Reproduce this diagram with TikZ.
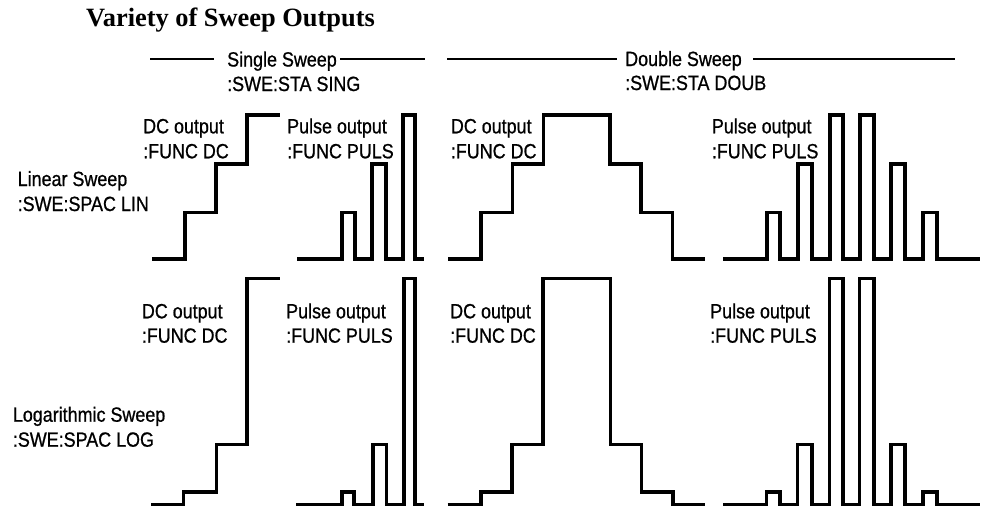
\documentclass[tikz,border=0pt]{standalone}
\usepackage{fontspec}
\setmainfont[FakeStretch=0.87,FakeBold=0.8]{Liberation Sans}
\newfontfamily\titlefont{Liberation Serif}
\newcommand\lblfont{\fontsize{20.6}{24}\selectfont}
\begin{document}
\begin{tikzpicture}[x=1pt,y=-1pt,
  lbl/.style={anchor=base west, inner sep=0pt, font=\lblfont},
  wave/.style={line width=3.4pt, line join=miter},
  hdr/.style={line width=2.8pt}]
\useasboundingbox (0,0) rectangle (985,507);
% title
\node[anchor=base west, inner sep=0pt, font=\titlefont\bfseries\fontsize{26.4}{30}\selectfont] (title) at (86,26.5) {Variety of Sweep Outputs};
% column headers
\node[lbl] (ss1) at (227,66.5) {Single Sweep};
\node[lbl] (ss2) at (227,91) {:SWE:STA SING};
\node[lbl] (ds1) at (625,66) {Double Sweep};
\node[lbl] (ds2) at (625,90) {:SWE:STA DOUB};
\coordinate (sa) at (150,59); \coordinate (sb) at (214,59);
\coordinate (sc) at (340,59); \coordinate (sd) at (425,59);
\coordinate (da) at (447,59); \coordinate (db) at (617,59);
\coordinate (dc) at (753,59); \coordinate (dd) at (955,59);
\draw[hdr] (sa) -- (sb);
\draw[hdr] (sc) -- (sd);
\draw[hdr] (da) -- (db);
\draw[hdr] (dc) -- (dd);
% row labels
\node[lbl] (lin1) at (17.5,186) {Linear Sweep};
\node[lbl] (lin2) at (17.5,211) {:SWE:SPAC LIN};
\node[lbl] (log1) at (12.7,421.7) {Logarithmic Sweep};
\node[lbl] (log2) at (12.7,446.7) {:SWE:SPAC LOG};
% waveform labels, top row
\node[lbl] (t1a) at (143,133.3) {DC output};
\node[lbl] (t1b) at (143,158.3) {:FUNC DC};
\node[lbl] (t2a) at (287,133.3) {Pulse output};
\node[lbl] (t2b) at (287,158.3) {:FUNC PULS};
\node[lbl] (t3a) at (450.7,133.3) {DC output};
\node[lbl] (t3b) at (450.7,158.3) {:FUNC DC};
\node[lbl] (t4a) at (711.7,133.3) {Pulse output};
\node[lbl] (t4b) at (711.7,158.3) {:FUNC PULS};
% waveform labels, bottom row
\node[lbl] (b1a) at (141.7,318.3) {DC output};
\node[lbl] (b1b) at (141.7,342.7) {:FUNC DC};
\node[lbl] (b2a) at (286,318.3) {Pulse output};
\node[lbl] (b2b) at (286,342.7) {:FUNC PULS};
\node[lbl] (b3a) at (450,318.3) {DC output};
\node[lbl] (b3b) at (450,342.7) {:FUNC DC};
\node[lbl] (b4a) at (710,318.3) {Pulse output};
\node[lbl] (b4b) at (710,342.7) {:FUNC PULS};
% top row waveforms (linear)
\draw[wave] (152,259) -| (185,212.5) -| (216,164) -| (247,115) -- (280,115);
\draw[wave] (297,259) -| (342,212.5) -| (355,259) -| (372,164) -| (386,259) -| (403,115) -| (415,259) -- (424,259);
\draw[wave] (448,259) -| (481,212.5) -| (512.5,164) -| (543.5,115) -| (610,164) -| (641,212.5) -| (672.5,259) -- (705,259);
\draw[wave] (723,259) -| (767,212.5) -| (780,259) -| (798,164) -| (812,259) -| (830,115) -| (843,259) -| (860,115) -| (874,259) -| (891,164) -| (905,259) -| (923,212.5) -| (937,259) -- (980,259);
% bottom row waveforms (logarithmic)
\draw[wave] (151,504.5) -| (183.5,492) -| (216.5,444.5) -| (247,278.5) -- (280,278.5);
\draw[wave] (296,504.5) -| (342,492) -| (354,504.5) -| (373,444.5) -| (386.5,504.5) -| (404,278.5) -| (415,504.5) -- (423.5,504.5);
\draw[wave] (447.5,504.5) -| (481,492) -| (512,444.5) -| (543,278.5) -| (610.5,444.5) -| (641.5,492) -| (673,504.5) -- (705,504.5);
\draw[wave] (723,504.5) -| (766.5,492) -| (780,504.5) -| (797.5,444.5) -| (812,504.5) -| (829.5,278.5) -| (843,504.5) -| (859.5,278.5) -| (874,504.5) -| (891,444.5) -| (905,504.5) -| (923,492) -| (937,504.5) -- (980,504.5);
\end{tikzpicture}
\end{document}
